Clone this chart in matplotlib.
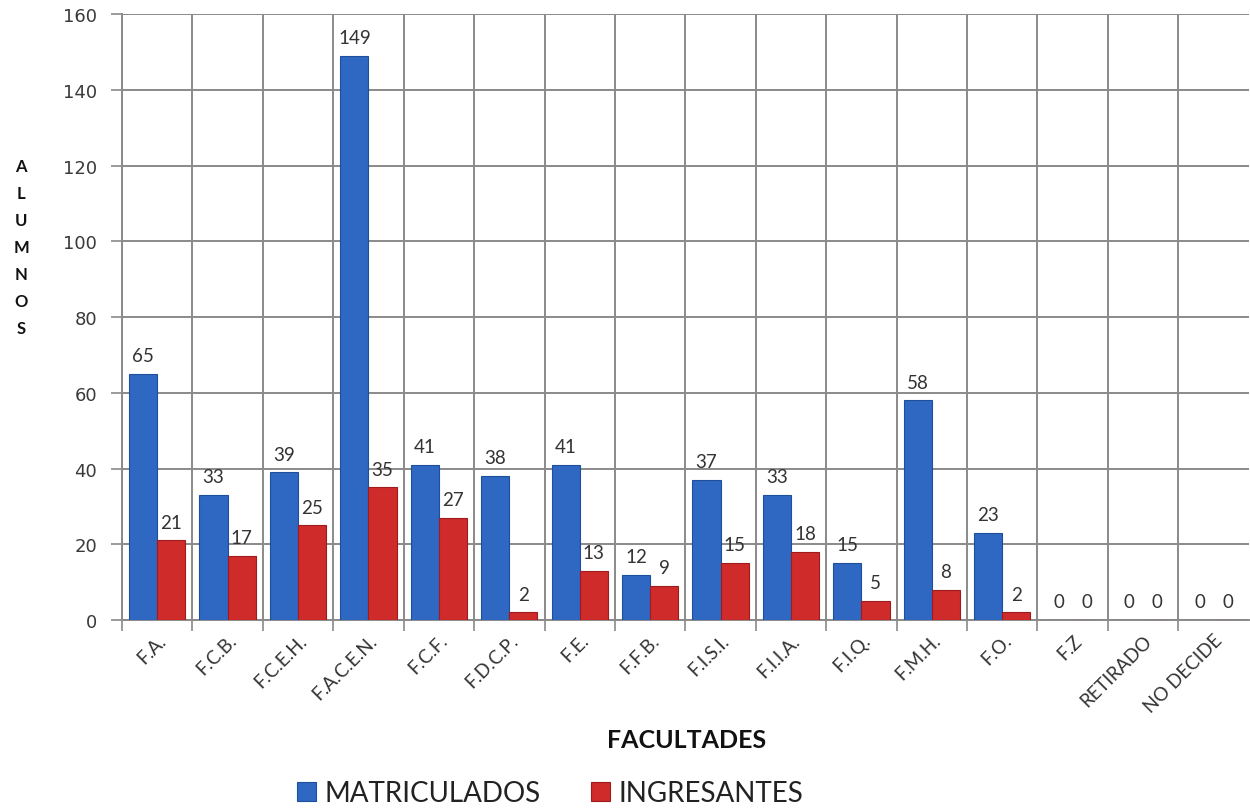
import matplotlib.pyplot as plt
import numpy as np

facultades = ['F.A.', 'F.C.B.', 'F.C.E.H.', 'F.A.C.E.N.', 'F.C.F.', 'F.D.C.P.', 'F.E.',
              'F.F.B.', 'F.I.S.I.', 'F.I.I.A.', 'F.I.Q.', 'F.M.H.', 'F.O.', 'F.Z',
              'RETIRADO', 'NO DECIDE']
matriculados = [65, 33, 39, 149, 41, 38, 41, 12, 37, 33, 15, 58, 23, 0, 0, 0]
ingresantes = [21, 17, 25, 35, 27, 2, 13, 9, 15, 18, 5, 8, 2, 0, 0, 0]

BLUE = '#2f68c2'
RED = '#cf2b2b'
GRID = '#8a8a8a'
TXT = '#333333'

plt.rcParams['font.family'] = ['Lato', 'DejaVu Sans']

fig = plt.figure(figsize=(12.5, 8.12), dpi=100)
ax = fig.add_axes([0.0976, 0.2352, 0.9014, 0.7463])

x = np.arange(len(facultades))
w = 0.4
b1 = ax.bar(x - w / 2, matriculados, w, color=BLUE, edgecolor='#1f4f9a', linewidth=0.8,
            zorder=3, label='MATRICULADOS')
b2 = ax.bar(x + w / 2, ingresantes, w, color=RED, edgecolor='#9e1c1c', linewidth=0.8,
            zorder=3, label='INGRESANTES')

for bars, vals in ((b1, matriculados), (b2, ingresantes)):
    for rect, v in zip(bars, vals):
        ax.annotate(str(v), (rect.get_x() + rect.get_width() / 2, v),
                    xytext=(0, 7), textcoords='offset points', ha='center', va='bottom',
                    fontsize=13.5, color=TXT)

ax.set_xlim(-0.5, len(facultades) - 0.5)
ax.set_ylim(0, 160)
ax.set_yticks(np.arange(0, 161, 20))
ax.tick_params(axis='y', labelsize=13, colors=GRID, labelcolor='#3a3a3a', length=8,
               width=1.2, pad=10)
for t in ax.get_yticklabels():
    t.set_fontfamily('DejaVu Sans')

ax.set_xticks(x - 0.5, minor=False)
ax.set_xticklabels([])
ax.set_xticks(x, minor=True)
ax.set_xticklabels(facultades, minor=True, rotation=45, ha='right',
                   rotation_mode='anchor', fontsize=13.5, color=TXT)
ax.tick_params(axis='x', which='major', length=8, width=1.2, colors=GRID)
ax.tick_params(axis='x', which='minor', length=0, pad=8)

# grid: horizontal at y ticks, vertical at category boundaries
ax.grid(True, which='major', color=GRID, linewidth=1.4, zorder=0)
ax.set_axisbelow(True)
for s in ['top', 'right']:
    ax.spines[s].set_visible(False)
for s in ['left', 'bottom']:
    ax.spines[s].set_color(GRID)
    ax.spines[s].set_linewidth(1.4)

fig.text(0.549, 0.088, 'FACULTADES', ha='center', va='center', fontsize=18,
         fontweight='bold', color='#111111')
fig.text(0.017, 0.6946, '\n'.join('ALUMNOS'), ha='center', va='center', fontsize=12,
         fontweight='bold', color='#111111', linespacing=1.85)

fig.legend(handles=[b1, b2], loc='center', bbox_to_anchor=(0.44, 0.022), ncol=2,
           frameon=False, fontsize=20, handlelength=0.7, handleheight=0.7,
           handletextpad=0.3, columnspacing=1.8, labelcolor='#222222')

fig.savefig('out.png', dpi=100)
